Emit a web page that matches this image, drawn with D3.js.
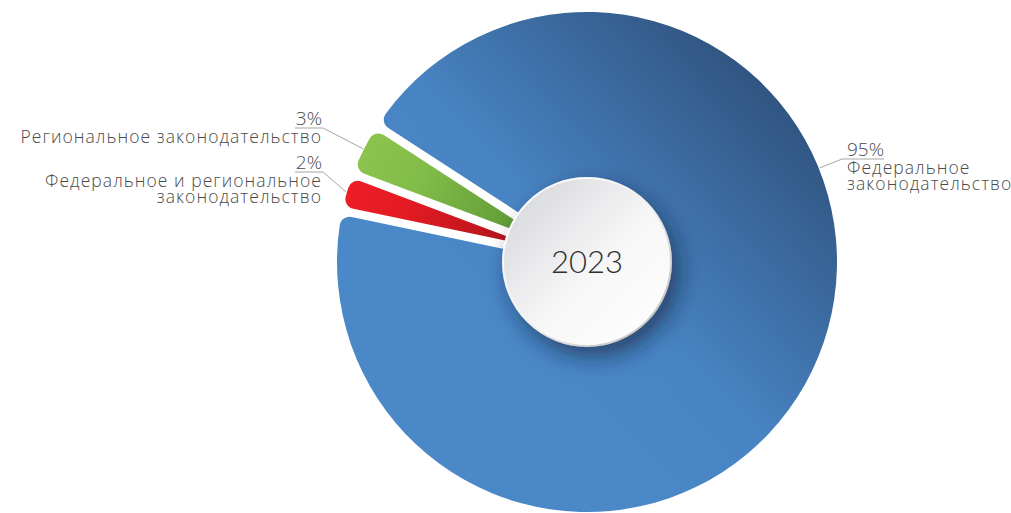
<!DOCTYPE html>
<html>
<head>
<meta charset="utf-8">
<script src="https://cdn.jsdelivr.net/npm/d3@7/dist/d3.min.js"></script>
<style>
  html, body { margin: 0; padding: 0; background: #ffffff; }
  svg { display: block; }
  .lbl { font-family: "Open Sans", sans-serif; font-weight: 300; fill: #4a4a4a; }
</style>
</head>
<body>
<svg id="chart" width="1011" height="513"></svg>
<script>
// ---- data ----
const categories = ["Федеральное законодательство", "Федеральное и региональное законодательство", "Региональное законодательство"];
const values = [95, 2, 3];
const percentLabels = ["95%", "2%", "3%"];
const labelLines = [["Федеральное", "законодательство"], ["Федеральное и региональное", "законодательство"], ["Региональное законодательство"]];
const centerLabel = "2023";

// ---- layout ----
const W = 1011, H = 513;
const cx = 587, cy = 262, R = 250, rCenter = 84;
const svg = d3.select("#chart");
const defs = svg.append("defs");

// gradients (coordinates relative to the pie centre)
const gBlue = defs.append("linearGradient").attr("id", "gBlue")
  .attr("gradientUnits", "userSpaceOnUse")
  .attr("x1", -80).attr("y1", 110).attr("x2", 240).attr("y2", -200);
gBlue.append("stop").attr("offset", 0).attr("stop-color", "#4b88c8");
gBlue.append("stop").attr("offset", 0.3).attr("stop-color", "#4884c3");
gBlue.append("stop").attr("offset", 1).attr("stop-color", "#2b4a72");

const gGreen = defs.append("radialGradient").attr("id", "gGreen")
  .attr("gradientUnits", "userSpaceOnUse").attr("cx", 0).attr("cy", 0).attr("r", R);
gGreen.append("stop").attr("offset", 0.3).attr("stop-color", "#5f9a36");
gGreen.append("stop").attr("offset", 0.75).attr("stop-color", "#82bc49");
gGreen.append("stop").attr("offset", 1).attr("stop-color", "#8bc34d");

const gRed = defs.append("radialGradient").attr("id", "gRed")
  .attr("gradientUnits", "userSpaceOnUse").attr("cx", 0).attr("cy", 0).attr("r", R);
gRed.append("stop").attr("offset", 0.3).attr("stop-color", "#b0141b");
gRed.append("stop").attr("offset", 0.75).attr("stop-color", "#e31b23");
gRed.append("stop").attr("offset", 1).attr("stop-color", "#ee1c25");

const gCenter = defs.append("linearGradient").attr("id", "gCenter")
  .attr("x1", 0).attr("y1", 0).attr("x2", 1).attr("y2", 1);
gCenter.append("stop").attr("offset", 0).attr("stop-color", "#d2d3d6");
gCenter.append("stop").attr("offset", 0.55).attr("stop-color", "#f7f7f8");
gCenter.append("stop").attr("offset", 1).attr("stop-color", "#ffffff");

const gRim = defs.append("linearGradient").attr("id", "gRim")
  .attr("x1", 0).attr("y1", 0).attr("x2", 1).attr("y2", 1);
gRim.append("stop").attr("offset", 0).attr("stop-color", "#ffffff");
gRim.append("stop").attr("offset", 0.5).attr("stop-color", "#f2f2f2");
gRim.append("stop").attr("offset", 1).attr("stop-color", "#b5b5b7");

const shadow = defs.append("filter").attr("id", "shadow")
  .attr("x", "-50%").attr("y", "-50%").attr("width", "200%").attr("height", "200%");
shadow.append("feDropShadow").attr("dx", 7).attr("dy", 10).attr("stdDeviation", 11)
  .attr("flood-color", "#0e2038").attr("flood-opacity", 0.6);

const fills = ["url(#gBlue)", "url(#gRed)", "url(#gGreen)"];

const startA = -57 * Math.PI / 180;
const pie = d3.pie().sort(null).value(d => d)
  .startAngle(startA).endAngle(startA + 2 * Math.PI).padAngle(0.03);
const arcs = pie(values);

const arc = d3.arc().innerRadius(60).outerRadius(R).cornerRadius(10).padRadius(280);

const g = svg.append("g").attr("transform", `translate(${cx},${cy})`);
g.selectAll("path.slice").data(arcs).join("path")
  .attr("class", "slice")
  .attr("d", arc)
  .attr("fill", (d, i) => fills[i]);

// center circle
g.append("circle").attr("r", rCenter).attr("fill", "url(#gCenter)")
  .attr("stroke", "url(#gRim)").attr("stroke-width", 2).attr("filter", "url(#shadow)");
g.append("text").text(centerLabel)
  .attr("text-anchor", "middle").attr("dy", "0.36em")
  .style("font-family", "Lato, 'Open Sans', sans-serif").style("font-weight", 300)
  .style("font-size", "31px").style("fill", "#2f2f2f");

// ---- labels ----
const lineColor = "#a5a5a5";
const pctSize = 19, txtSize = 17.5, lineGap = 16;
function pt(angle, r) { return [cx + r * Math.sin(angle), cy - r * Math.cos(angle)]; }

// label anchor configs (layout only)
const labelLayout = [
  { side: "right", x: 847, base: 156, angle: 68 * Math.PI / 180 },
  { side: "left", x: 322, base: 169, angle: null },
  { side: "left", x: 322, base: 125, angle: null }
];

arcs.forEach((a, i) => {
  const L = labelLayout[i];
  const ang = L.angle !== null ? L.angle : (a.startAngle + a.endAngle) / 2;
  const p = pt(ang, R + 1);
  const anchor = L.side === "left" ? "end" : "start";
  const pctT = svg.append("text").attr("class", "lbl")
    .attr("x", L.x).attr("y", L.base).attr("text-anchor", anchor)
    .style("font-size", pctSize + "px").text(percentLabels[i]);
  const pw = pctT.node().getComputedTextLength();
  const uy = L.base + 3;
  let ux1, ux2, ex;
  if (L.side === "left") { ux1 = L.x - pw - 1; ux2 = L.x + 1; ex = ux2; }
  else { ux1 = L.x - 5; ux2 = L.x + pw; ex = ux1; }
  svg.append("line").attr("x1", ux1).attr("x2", ux2).attr("y1", uy).attr("y2", uy)
    .attr("stroke", lineColor).attr("stroke-width", 1);
  svg.append("line").attr("x1", ex).attr("y1", uy).attr("x2", p[0]).attr("y2", p[1])
    .attr("stroke", lineColor).attr("stroke-width", 1);
  labelLines[i].forEach((t, j) => {
    svg.append("text").attr("class", "lbl")
      .attr("x", L.x).attr("y", L.base + 18 + j * lineGap).attr("text-anchor", anchor)
      .style("font-size", txtSize + "px").style("letter-spacing", "1.05px").text(t);
  });
});
</script>
</body>
</html>
